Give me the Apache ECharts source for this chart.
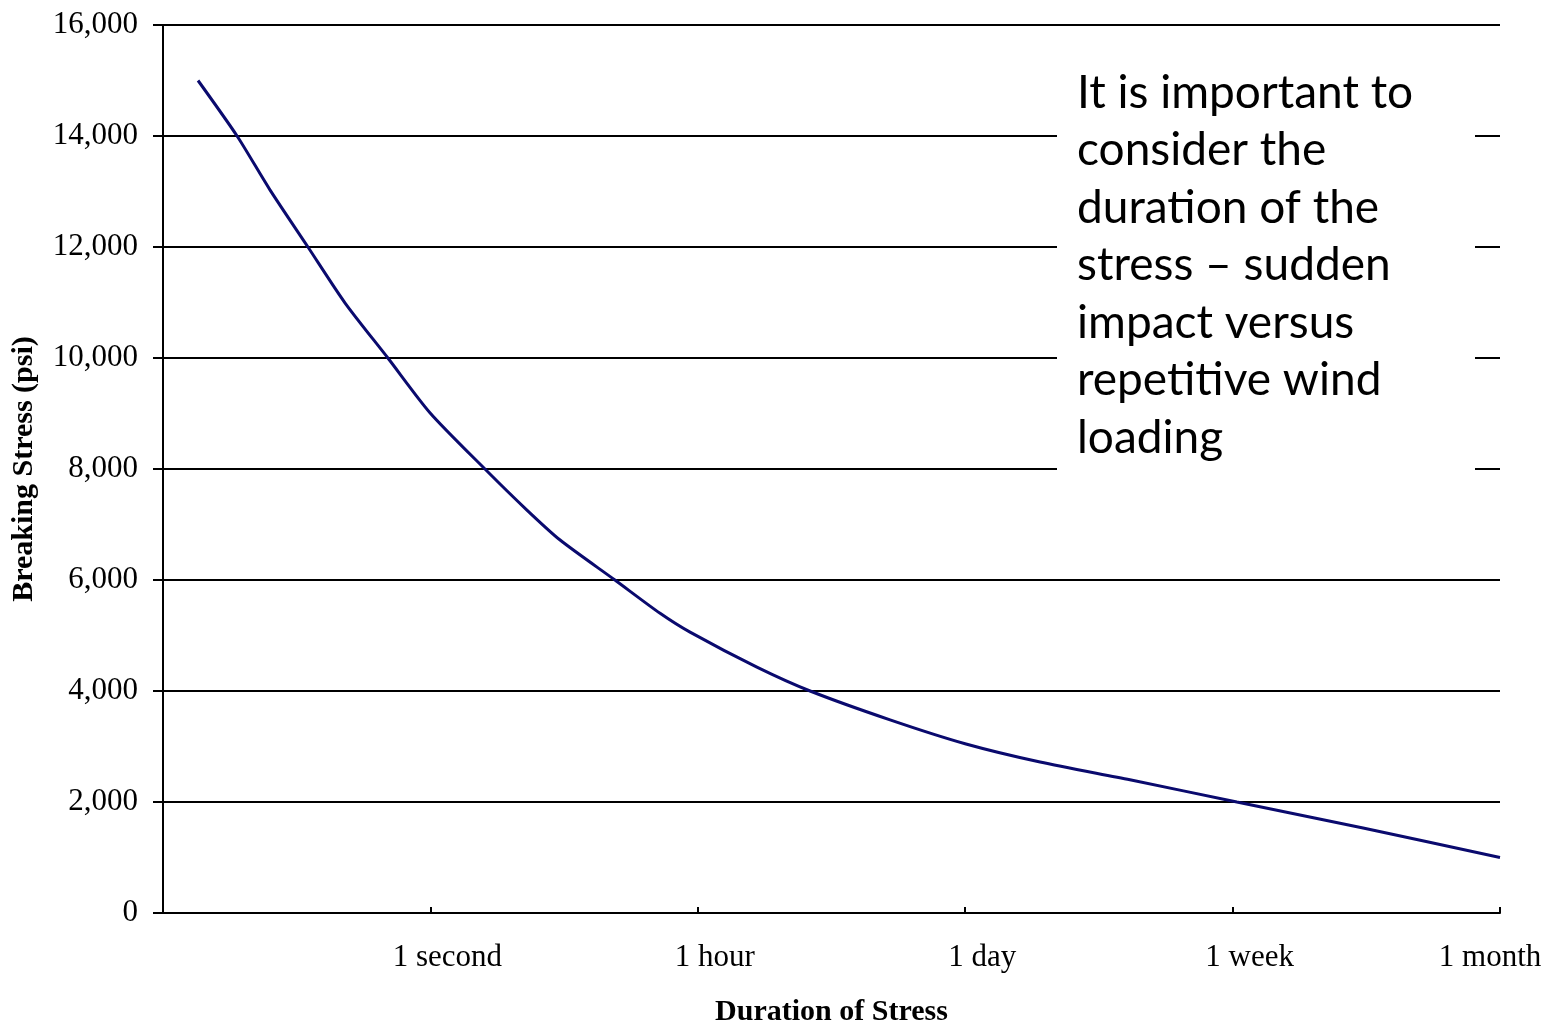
<!DOCTYPE html>
<html>
<head>
<meta charset="utf-8">
<script src="https://cdn.jsdelivr.net/npm/echarts@6/dist/echarts.min.js"></script>
<style>
html,body{margin:0;padding:0;background:#fff;}
#chart{width:1558px;height:1027px;}
</style>
</head>
<body>
<div id="chart"></div>
<script>
// Duration position on the axis (0..5 ticks: -, 1 second, 1 hour, 1 day, 1 week, 1 month)
const durationPos = [0.131, 0.277, 0.40, 0.542, 0.681, 0.841, 0.999, 1.204, 1.361, 1.485, 1.69, 1.859, 1.971, 2.221, 2.42, 2.719, 3.003, 3.28, 3.616, 4.016, 4.488, 5.0];
const breakingStress = [15000, 14000, 13030, 12000, 10990, 10000, 9010, 8000, 7260, 6720, 6000, 5400, 5060, 4430, 4000, 3480, 3045, 2720, 2400, 2000, 1530, 1000];
const xTickLabels = ['', '1 second', '1 hour', '1 day', '1 week', '1 month'];
const note = ['It is important to', 'consider the', 'duration of the', 'stress \u2013 sudden', 'impact versus', 'repetitive wind', 'loading'];

const chart = echarts.init(document.getElementById('chart'));
const serif = '"Liberation Serif", "DejaVu Serif", serif';
chart.setOption({
  animation: false,
  backgroundColor: '#fff',
  grid: {left: 163, right: 58, top: 25, bottom: 114, containLabel: false, outerBoundsMode: 'none'},
  xAxis: {
    type: 'value', min: 0, max: 5, interval: 1,
    name: 'Duration of Stress', nameLocation: 'middle', nameGap: 84,
    nameTextStyle: {fontFamily: serif, fontWeight: 'bold', fontSize: 30, color: '#000'},
    axisLine: {show: true, lineStyle: {color: '#000', width: 2}},
    axisTick: {show: true, inside: true, length: 6, lineStyle: {color: '#000', width: 2}},
    splitLine: {show: false},
    axisLabel: {
      margin: 29, fontFamily: serif, fontSize: 31, color: '#000',
      formatter: function (v) {
        const s = xTickLabels[Math.round(v)] || '';
        if (!s) return '';
        return Math.round(v) === 5 ? '{m|' + s + '}' : '{n|' + s + '}';
      },
      rich: {
        n: {fontFamily: serif, fontSize: 31, color: '#000', padding: [0, 0, 0, 34]},
        m: {fontFamily: serif, fontSize: 31, color: '#000', padding: [0, 20, 0, 0]}
      }
    }
  },
  yAxis: {
    type: 'value', min: 0, max: 16000, interval: 2000,
    name: 'Breaking Stress (psi)', nameLocation: 'middle', nameGap: 124,
    nameTextStyle: {fontFamily: serif, fontWeight: 'bold', fontSize: 30, color: '#000'},
    axisLine: {show: true, lineStyle: {color: '#000', width: 2}},
    axisTick: {show: true, length: 10, lineStyle: {color: '#000', width: 2}},
    splitLine: {show: true, lineStyle: {color: '#000', width: 2}},
    axisLabel: {
      margin: 25, fontFamily: serif, fontSize: 31, color: '#000',
      formatter: function (v) { return v === 0 ? '0' : v.toLocaleString('en-US'); }
    }
  },
  series: [{
    type: 'line',
    data: durationPos.map((x, i) => [x, breakingStress[i]]),
    smooth: 0.25,
    showSymbol: false,
    lineStyle: {color: '#0a0a6e', width: 3},
    z: 3
  }],
  graphic: [
    {type: 'rect', shape: {x: 1057, y: 60, width: 418, height: 430}, style: {fill: '#fff'}, z: 10},
    {type: 'text', left: 1077, top: 64, z: 11,
     style: {text: note.join('\n'), fontFamily: 'Lato, "Open Sans", sans-serif', fontSize: 46, lineHeight: 57.5, fill: '#000'}}
  ]
});
</script>
</body>
</html>
